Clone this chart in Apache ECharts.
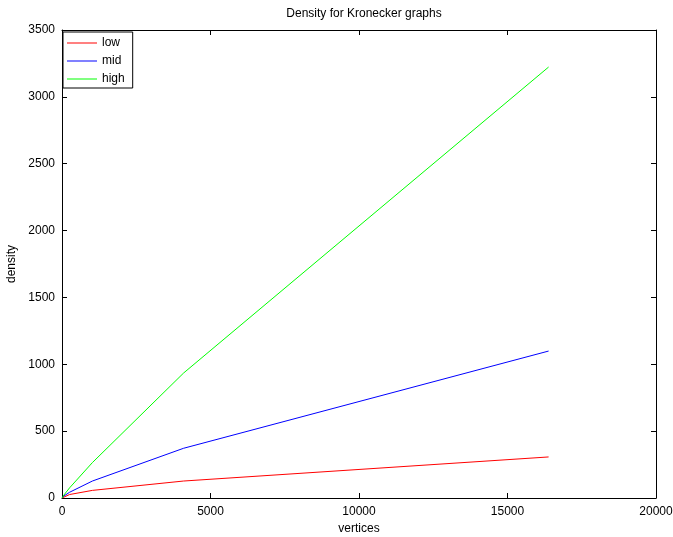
<!DOCTYPE html>
<html>
<head>
<meta charset="utf-8">
<script src="https://cdn.jsdelivr.net/npm/echarts@6/dist/echarts.min.js"></script>
<style>
  html, body { margin: 0; padding: 0; background: #fff; }
  #chart { width: 673px; height: 537px; }
</style>
</head>
<body>
<div id="chart"></div>
<script>
// vertices per graph size
var vertices = [0, 4, 16, 64, 256, 1024, 4096, 16384]
var lowDensity = [0, 2.5, 5.5, 12, 26, 57, 127, 307]
var midDensity = [0, 1.7, 5, 15, 43, 127, 372, 1099]
var highDensity = [0, 1.8, 6, 22, 76, 265, 935, 3223]
var seriesNames = ['low', 'mid', 'high']
var seriesColors = ['#ff0000', '#0000ff', '#00ff00']

function pairs(ys) {
  return vertices.map(function (x, i) { return [x, ys[i]] })
}

var font = 'Liberation Sans, Arial, Helvetica, sans-serif'
var plain = function (v) { return String(v) }

var chart = echarts.init(document.getElementById('chart'))

var axisCommon = {
  axisLine: { show: true, onZero: false, lineStyle: { color: '#000', width: 1 } },
  axisTick: { show: true, inside: true, length: 5, lineStyle: { color: '#000' } },
  splitLine: { show: false }
}

chart.setOption({
  animation: false,
  backgroundColor: '#fff',
  title: {
    text: 'Density for Kronecker graphs',
    left: 359,
    textAlign: 'center',
    top: 3,
    textStyle: { fontFamily: font, fontSize: 12, fontWeight: 'normal', color: '#000' }
  },
  grid: { left: 62, right: 17, top: 30, bottom: 39, outerBoundsMode: 'none', containLabel: false },
  legend: {
    data: seriesNames,
    orient: 'vertical',
    left: 63,
    top: 32,
    icon: 'rect',
    itemWidth: 30,
    itemHeight: 1,
    itemGap: 4,
    padding: [4, 8, 2, 4],
    borderColor: '#000',
    borderWidth: 1,
    backgroundColor: '#fff',
    textStyle: { fontFamily: font, fontSize: 12, lineHeight: 14, color: '#000' }
  },
  xAxis: [
    Object.assign({
      type: 'value',
      min: 0,
      max: 20000,
      interval: 5000,
      name: 'vertices',
      nameLocation: 'middle',
      nameGap: 24,
      nameTextStyle: { fontFamily: font, fontSize: 12, color: '#000' },
      axisLabel: { fontFamily: font, fontSize: 12, color: '#000', margin: 8, formatter: plain }
    }, axisCommon),
    Object.assign({
      type: 'value',
      position: 'top',
      min: 0,
      max: 20000,
      interval: 5000,
      axisLabel: { show: false }
    }, axisCommon)
  ],
  yAxis: [
    Object.assign({
      type: 'value',
      min: 0,
      max: 3500,
      interval: 500,
      name: 'density',
      nameLocation: 'middle',
      nameGap: 44,
      nameTextStyle: { fontFamily: font, fontSize: 12, color: '#000' },
      axisLabel: { fontFamily: font, fontSize: 12, color: '#000', margin: 7, formatter: plain }
    }, axisCommon),
    Object.assign({
      type: 'value',
      position: 'right',
      min: 0,
      max: 3500,
      interval: 500,
      axisLabel: { show: false }
    }, axisCommon)
  ],
  series: [
    {
      name: seriesNames[0],
      type: 'line',
      data: pairs(lowDensity),
      symbol: 'none',
      lineStyle: { color: seriesColors[0], width: 1 },
      itemStyle: { color: seriesColors[0] }
    },
    {
      name: seriesNames[1],
      type: 'line',
      data: pairs(midDensity),
      symbol: 'none',
      lineStyle: { color: seriesColors[1], width: 1 },
      itemStyle: { color: seriesColors[1] }
    },
    {
      name: seriesNames[2],
      type: 'line',
      data: pairs(highDensity),
      symbol: 'none',
      lineStyle: { color: seriesColors[2], width: 1 },
      itemStyle: { color: seriesColors[2] }
    }
  ]
})
</script>
</body>
</html>
